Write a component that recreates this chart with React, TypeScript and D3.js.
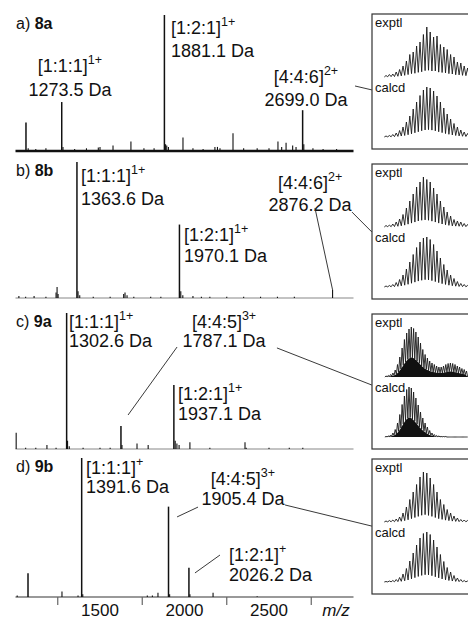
import React from 'react';
import * as d3 from 'd3';

const W = 468;
const H = 621;
const FONT = '"Liberation Sans", Arial, sans-serif';

// shared m/z axis
const mzDomain = [1000, 3000];
const minorTicks = [1250, 1750, 2250, 2750];
const tickLabels = [1500, 2000, 2500];

const panelLetters = ['a', 'b', 'c', 'd'];
const panelNames = ['8a', '8b', '9a', '9b'];

// [m/z, relative intensity]
const peaksA = [
  [1062, 0.21], [1075, 0.02], [1120, 0.015], [1180, 0.02], [1273.5, 0.36], [1281, 0.03],
  [1350, 0.015], [1420, 0.02], [1490, 0.025], [1500, 0.03], [1577, 0.04], [1683, 0.07],
  [1760, 0.02], [1820, 0.02], [1881.1, 1.0], [1888, 0.05], [1895, 0.04], [1905, 0.03],
  [1991, 0.1], [2050, 0.02], [2110, 0.015], [2180, 0.03], [2195, 0.03], [2210, 0.02],
  [2287, 0.13], [2350, 0.02], [2430, 0.02], [2500, 0.02], [2553, 0.07], [2575, 0.03],
  [2601, 0.06], [2640, 0.04], [2660, 0.03], [2699, 0.3], [2706, 0.05], [2760, 0.02],
  [2820, 0.015], [2900, 0.015],
];
const peaksB = [
  [1020, 0.015], [1060, 0.01], [1110, 0.015], [1180, 0.01], [1240, 0.04], [1246, 0.08],
  [1252, 0.03], [1363.6, 1.0], [1370, 0.05], [1380, 0.02], [1460, 0.01], [1560, 0.01],
  [1640, 0.03], [1648, 0.04], [1660, 0.02], [1700, 0.01], [1800, 0.01], [1860, 0.01],
  [1970.1, 0.54], [1978, 0.05], [1990, 0.02], [2050, 0.015], [2100, 0.01], [2150, 0.01],
  [2250, 0.01], [2350, 0.01], [2450, 0.01], [2550, 0.01], [2650, 0.01], [2876.2, 0.06],
];
const peaksC = [
  [1004, 0.12], [1060, 0.01], [1120, 0.01], [1186, 0.03], [1240, 0.01], [1302.6, 1.0],
  [1308, 0.06], [1318, 0.02], [1400, 0.01], [1500, 0.01], [1560, 0.01], [1624, 0.17],
  [1630, 0.03], [1719, 0.04], [1785, 0.03], [1937.1, 0.47], [1945, 0.06], [1955, 0.04],
  [1968, 0.03], [2032, 0.05], [2150, 0.01], [2358, 0.05], [2365, 0.01], [2500, 0.01],
  [2620, 0.01], [2700, 0.01],
];
const peaksD = [
  [1010, 0.01], [1074, 0.17], [1275, 0.04], [1370, 0.01], [1391.6, 1.0], [1398, 0.02],
  [1780, 0.01], [1810, 0.01], [1843, 0.03], [1905.4, 0.65], [1912, 0.02], [2026.2, 0.21],
  [2032, 0.02], [2169, 0.03], [2430, 0.005],
];
const peaks = [peaksA, peaksB, peaksC, peaksD];

// peak labels: x (m/z) and y (relative height) of the first line
const labelsA = [
  { x: 1322, y: 0.58, anchor: 'middle', gap: 24, ion: '[1:1:1]', z: '1+', mass: '1273.5 Da' },
  { x: 1920, y: 0.86, anchor: 'start', gap: 23, ion: '[1:2:1]', z: '1+', mass: '1881.1 Da' },
  { x: 2719, y: 0.5, anchor: 'middle', gap: 23, ion: '[4:4:6]', z: '2+', mass: '2699.0 Da' },
];
const labelsB = [
  { x: 1388, y: 0.853, anchor: 'start', gap: 23, ion: '[1:1:1]', z: '1+', mass: '1363.6 Da' },
  { x: 1997, y: 0.42, anchor: 'start', gap: 21, ion: '[1:2:1]', z: '1+', mass: '1970.1 Da' },
  { x: 2743, y: 0.8, anchor: 'middle', gap: 22, ion: '[4:4:6]', z: '2+', mass: '2876.2 Da' },
];
const labelsC = [
  { x: 1317, y: 0.89, anchor: 'start', gap: 19, ion: '[1:1:1]', z: '1+', mass: '1302.6 Da' },
  { x: 2234, y: 0.89, anchor: 'middle', gap: 19, ion: '[4:4:5]', z: '3+', mass: '1787.1 Da' },
  { x: 1962, y: 0.36, anchor: 'start', gap: 20, ion: '[1:2:1]', z: '1+', mass: '1937.1 Da' },
];
const labelsD = [
  { x: 1417, y: 0.885, anchor: 'start', gap: 19, ion: '[1:1:1]', z: '+', mass: '1391.6 Da' },
  { x: 2346, y: 0.806, anchor: 'middle', gap: 20, ion: '[4:4:5]', z: '3+', mass: '1905.4 Da' },
  { x: 2263, y: 0.259, anchor: 'start', gap: 20, ion: '[1:2:1]', z: '+', mass: '2026.2 Da' },
];
const labels = [labelsA, labelsB, labelsC, labelsD];

// callout lines [m/z, rel. height] -> [m/z, rel. height]
const calloutsA = [[[3009, 0.478], [3109, 0.449]]];
const calloutsB = [[[2772, 0.662], [2876.2, 0.06]], [[2991, 0.632], [3109, 0.485]]];
const calloutsC = [[[1956, 0.75], [1666, 0.25]], [[2547, 0.743], [3109, 0.47]]];
const calloutsD = [
  [[2080, 0.647], [1956, 0.576]],
  [[2595, 0.662], [3109, 0.51]],
  [[2210, 0.302], [2062, 0.173]],
];
const callouts = [calloutsA, calloutsB, calloutsC, calloutsD];

// isotope patterns in the insets (relative peak heights)
const exptlA = [0.03, 0.05, 0.06, 0.1, 0.15, 0.22, 0.32, 0.45, 0.5, 0.62, 0.7, 0.85, 1.0, 0.9, 0.8, 0.82, 0.65, 0.6, 0.55, 0.45, 0.4, 0.3, 0.28, 0.22, 0.18];
const calcdA = [0.02, 0.03, 0.05, 0.08, 0.13, 0.2, 0.3, 0.42, 0.56, 0.7, 0.83, 0.94, 1.0, 0.98, 0.92, 0.82, 0.7, 0.58, 0.46, 0.36, 0.27, 0.2, 0.14, 0.1, 0.07];
const exptlB = [0.03, 0.04, 0.06, 0.1, 0.16, 0.25, 0.38, 0.52, 0.66, 0.8, 0.9, 1.0, 0.95, 0.9, 0.78, 0.66, 0.52, 0.4, 0.3, 0.22, 0.15, 0.12, 0.1, 0.07, 0.05];
const calcdB = [0.02, 0.03, 0.05, 0.09, 0.15, 0.24, 0.36, 0.5, 0.65, 0.79, 0.9, 0.98, 1.0, 0.95, 0.85, 0.72, 0.58, 0.45, 0.34, 0.24, 0.17, 0.11, 0.07, 0.05, 0.03];
const exptlC = [0.02, 0.03, 0.05, 0.08, 0.14, 0.25, 0.4, 0.58, 0.75, 0.88, 0.96, 1.0, 0.97, 0.9, 0.8, 0.68, 0.55, 0.45, 0.38, 0.32, 0.28, 0.25, 0.22, 0.2, 0.2, 0.22, 0.25, 0.27, 0.28, 0.27, 0.25, 0.22, 0.2, 0.17, 0.15, 0.12];
const calcdC = [0.01, 0.02, 0.04, 0.08, 0.15, 0.28, 0.45, 0.65, 0.82, 0.95, 1.0, 0.98, 0.9, 0.78, 0.64, 0.5, 0.38, 0.28, 0.2, 0.13, 0.08, 0.05, 0.03, 0.02, 0.01, 0.01, 0.01, 0.0, 0.0, 0.0, 0.0, 0.0, 0.0, 0.0, 0.0, 0.0];
const exptlD = [0.02, 0.03, 0.04, 0.06, 0.1, 0.18, 0.3, 0.45, 0.6, 0.75, 0.9, 1.0, 0.98, 0.88, 0.75, 0.6, 0.45, 0.35, 0.25, 0.18, 0.12, 0.08, 0.05, 0.04, 0.03];
const calcdD = [0.01, 0.02, 0.03, 0.05, 0.09, 0.16, 0.27, 0.42, 0.58, 0.74, 0.88, 0.97, 1.0, 0.95, 0.84, 0.7, 0.55, 0.41, 0.29, 0.2, 0.13, 0.08, 0.05, 0.03, 0.02];
const exptl = [exptlA, exptlB, exptlC, exptlD];
const calcd = [calcdA, calcdB, calcdC, calcdD];

// layout
const baselines = [151, 298, 449, 597];
const heights = [136, 136, 136, 139];
const boxTops = [14, 164, 314, 459];
const boxH = 135;
const boxX = 372;
const insetX0 = 386;
const insetSteps = [3.4, 3.4, 2.3, 3.4];
const valleyFrac = [0.15, 0.15, 0.4, 0.15];

const x = d3.scaleLinear().domain(mzDomain).range([15.5, 353.5]);

function Profile({ values, step, base, vf, fillBottom }) {
  const xi = d3.scaleLinear().domain([0, values.length - 1]).range([insetX0, insetX0 + (values.length - 1) * step]);
  const y = d3.scaleLinear().domain([0, 1]).range([base, base - 50]);
  const pts: [number, number][] = [[xi(0) - step / 2, 0]];
  const valleys: [number, number][] = [[xi(0) - step / 2, 0]];
  values.forEach((v, i) => {
    const next = i < values.length - 1 ? values[i + 1] : 0;
    const vv = Math.min(v, next) * vf;
    pts.push([xi(i), v]);
    pts.push([xi(i) + step / 2, vv]);
    valleys.push([xi(i) + step / 2, vv]);
  });
  const line = d3.line<[number, number]>().x((d) => d[0]).y((d) => y(d[1]));
  const area = d3.area<[number, number]>().x((d) => d[0]).y0(base).y1((d) => y(d[1]));
  return (
    <g>
      {fillBottom && <path d={area(valleys) || ''} fill="#111" />}
      <path d={line(pts) || ''} fill="none" stroke="#1a1a1a" strokeWidth={0.9} strokeLinejoin="miter" />
    </g>
  );
}

function Panel({ i }) {
  const base = baselines[i];
  const y = d3.scaleLinear().domain([0, 1]).range([base, base - heights[i]]);
  const top = boxTops[i];
  return (
    <g>
      <text x={16} y={y(1) + 14} fontSize={16} fontFamily={FONT} fill="#111">
        {panelLetters[i]}){' '}
        <tspan fontWeight="bold">{panelNames[i]}</tspan>
      </text>
      {i === 3 ? (
        <line x1={x(mzDomain[0])} x2={x(mzDomain[1])} y1={base} y2={base} stroke="#777" strokeWidth={1.6} />
      ) : (
        <line x1={x(mzDomain[0])} x2={x(mzDomain[1])} y1={base} y2={base}
          stroke={i === 0 ? '#111' : '#888'} strokeWidth={i === 0 ? 2.6 : 1.2} />
      )}
      {peaks[i].map(([m, v], k) => (
        <line key={k} x1={x(m)} x2={x(m)} y1={base} y2={y(v)} stroke="#111"
          strokeWidth={v > 0.15 ? 1.5 : 1.1} />
      ))}
      {labels[i].map((l, k) => (
        <text key={k} x={x(l.x)} y={y(l.y)} fontSize={18} fontFamily={FONT} fill="#111" textAnchor={l.anchor}>
          <tspan>{l.ion}</tspan>
          <tspan fontSize={12.5} dy={-8}>{l.z}</tspan>
          <tspan x={x(l.x)} dy={8 + l.gap}>{l.mass}</tspan>
        </text>
      ))}
      {callouts[i].map(([a, b], k) => (
        <line key={k} x1={x(a[0])} y1={y(a[1])} x2={x(b[0])} y2={y(b[1])} stroke="#222" strokeWidth={0.9} />
      ))}
      <rect x={boxX} y={top} width={120} height={boxH} fill="white" stroke="#333" strokeWidth={1.2} />
      <text x={boxX + 3} y={top + 13} fontSize={13} fontFamily={FONT} fill="#111">exptl</text>
      <text x={boxX + 3} y={top + 78} fontSize={13} fontFamily={FONT} fill="#111">calcd</text>
      <Profile values={exptl[i]} step={insetSteps[i]} base={top + 63} vf={valleyFrac[i]} fillBottom={i === 2} />
      <Profile values={calcd[i]} step={insetSteps[i]} base={top + 123} vf={valleyFrac[i]} fillBottom={i === 2} />
    </g>
  );
}

export default function App() {
  const base = baselines[3];
  return (
    <svg width={W} height={H} style={{ position: 'absolute', left: 0, top: 0, background: 'white' }}>
      <rect width={W} height={H} fill="white" />
      {[0, 1, 2, 3].map((i) => <Panel key={i} i={i} />)}
      {minorTicks.map((t) => (
        <line key={t} x1={x(t)} x2={x(t)} y1={base} y2={base + 8} stroke="#666" strokeWidth={1.2} />
      ))}
      {tickLabels.map((t) => (
        <text key={t} x={x(t)} y={base + 19} fontSize={17} fontFamily={FONT} textAnchor="middle" fill="#111">{t}</text>
      ))}
      <text x={336} y={base + 19} fontSize={17} fontFamily={FONT} fontStyle="italic" textAnchor="middle" fill="#111">m/z</text>
    </svg>
  );
}
